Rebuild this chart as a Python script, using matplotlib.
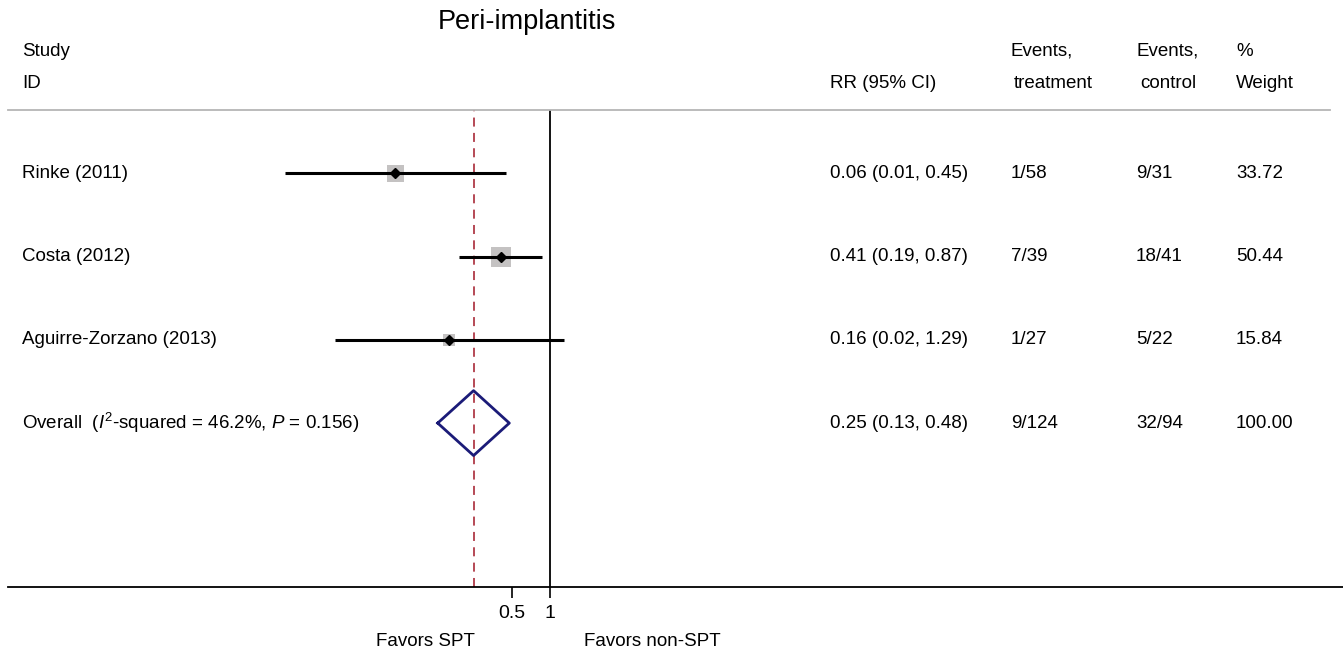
import numpy as np
import matplotlib
matplotlib.use("Agg")
import matplotlib.pyplot as plt
from matplotlib.lines import Line2D
from matplotlib.transforms import blended_transform_factory

plt.rcParams['font.family'] = ['Liberation Sans', 'DejaVu Sans']
plt.rcParams['mathtext.fontset'] = 'custom'
plt.rcParams['mathtext.rm'] = 'Liberation Sans'
plt.rcParams['mathtext.it'] = 'Liberation Sans:italic'

# data
studies = ['Rinke (2011)', 'Costa (2012)', 'Aguirre-Zorzano (2013)']
rr = [0.06, 0.41, 0.16]
rr_lo = [0.008, 0.19, 0.02]
rr_hi = [0.45, 0.87, 1.29]
weights = [33.72, 50.44, 15.84]
rr_text = ['0.06 (0.01, 0.45)', '0.41 (0.19, 0.87)', '0.16 (0.02, 1.29)']
ev_treat = ['1/58', '7/39', '1/27']
ev_ctrl = ['9/31', '18/41', '5/22']
wt_text = ['33.72', '50.44', '15.84']

overall_rr = 0.25
overall_lo = 0.13
overall_hi = 0.48
overall_label = r'Overall  ($\it{I}^2$-squared = 46.2%, $\it{P}$ = 0.156)'
overall_text = ['0.25 (0.13, 0.48)', '9/124', '32/94', '100.00']

W, H = 1343, 654
fig = plt.figure(figsize=(W / 100, H / 100), dpi=100)
ax = fig.add_axes([270 / W, 1 - 587 / H, 330 / W, (587 - 110) / H])
ax.set_xscale('log')
ax.set_xlim(0.0061, 2.51)
ax.set_ylim(4.97, -0.763)
for s in ax.spines.values():
    s.set_visible(False)
ax.set_yticks([])
ax.set_xticks([0.5, 1])
ax.set_xticklabels(['0.5', '1'])
ax.minorticks_off()
ax.tick_params(axis='x', length=8, width=1.2, pad=5, labelsize=14)

rows = np.arange(len(studies))
ax.axvline(1, color='black', lw=1.3)
ax.axvline(overall_rr, color='#b03a48', lw=1.3, ls=(0, (5, 3.5)))

# study estimates
ax.scatter(rr, rows, s=[4.2 * w for w in weights], marker='s', color='#c4c2c2', zorder=2, linewidths=0)
ax.hlines(rows, rr_lo, rr_hi, color='black', lw=2.2, zorder=3)
ax.plot(rr, rows, 'D', color='black', ms=5.5, zorder=4)

# overall diamond
yo = len(studies)
hh = 0.39
ax.plot([overall_lo, overall_rr, overall_hi, overall_rr, overall_lo],
        [yo, yo - hh, yo, yo + hh, yo], color='#1b1b78', lw=2, zorder=4)

# separator lines
fig.add_artist(Line2D([0.006, 0.99], [1 - 110 / H] * 2, color='#b5b5b5', lw=1.3, transform=fig.transFigure))
fig.add_artist(Line2D([0.006, 1.0], [1 - 587 / H] * 2, color='black', lw=1.3, transform=fig.transFigure))

# headers
fs = 13.5
fig.text(527 / W, 1 - 22 / H, 'Peri-implantitis', fontsize=19.5, ha='center', va='center')
fig.text(22 / W, 1 - 51 / H, 'Study', fontsize=fs, va='center')
fig.text(22 / W, 1 - 83 / H, 'ID', fontsize=fs, va='center')
fig.text(830 / W, 1 - 83 / H, 'RR (95% CI)', fontsize=fs, va='center')
fig.text(1011 / W, 1 - 51 / H, 'Events,', fontsize=fs, va='center')
fig.text(1014 / W, 1 - 83 / H, 'treatment', fontsize=fs, va='center')
fig.text(1136 / W, 1 - 51 / H, 'Events,', fontsize=fs, va='center')
fig.text(1140 / W, 1 - 83 / H, 'control', fontsize=fs, va='center')
fig.text(1236 / W, 1 - 51 / H, '%', fontsize=fs, va='center')
fig.text(1236 / W, 1 - 83 / H, 'Weight', fontsize=fs, va='center')

# row text
tr = blended_transform_factory(fig.transFigure, ax.transData)
labels = studies + [overall_label]
col_rr = rr_text + [overall_text[0]]
col_t = ev_treat + [overall_text[1]]
col_c = ev_ctrl + [overall_text[2]]
col_w = wt_text + [overall_text[3]]
for i in range(len(labels)):
    fig.text(22 / W, i, labels[i], fontsize=fs, va='center', transform=tr)
    fig.text(830 / W, i, col_rr[i], fontsize=fs, va='center', transform=tr)
    fig.text(1011 / W, i, col_t[i], fontsize=fs, va='center', transform=tr)
    fig.text(1136 / W, i, col_c[i], fontsize=fs, va='center', transform=tr)
    fig.text(1236 / W, i, col_w[i], fontsize=fs, va='center', transform=tr)

fig.text(425 / W, 1 - 642 / H, 'Favors SPT', fontsize=fs, ha='center', va='center')
fig.text(652 / W, 1 - 642 / H, 'Favors non-SPT', fontsize=fs, ha='center', va='center')

fig.savefig('out.png', dpi=100)
